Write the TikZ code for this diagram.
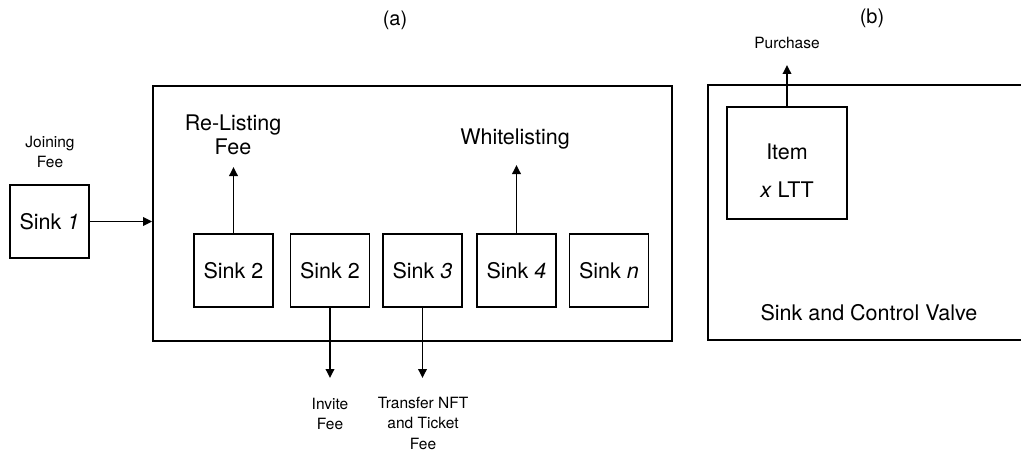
\documentclass[tikz,border=0pt]{standalone}
\usepackage{fontspec}
\setmainfont{TeX Gyre Heros}
\usetikzlibrary{arrows.meta}
\begin{document}
\begin{tikzpicture}[x=1pt,y=-1pt,
  sinkbox/.style={draw, line width=1.8pt, minimum width=79pt, minimum height=73pt, inner sep=0pt, font=\fontsize{21.5}{24}\selectfont},
  framebox/.style={draw, line width=1.8pt, inner sep=0pt},
  arr/.style={line width=1.8pt, -{Triangle[length=9pt,width=8.5pt]}},
  bigtxt/.style={font=\fontsize{21.5}{24}\selectfont, align=center, inner sep=0pt},
  smalltxt/.style={font=\fontsize{15.5}{20.5}\selectfont, align=center, inner sep=0pt},
  captxt/.style={font=\fontsize{20}{24}\selectfont, inner sep=0pt}]
\useasboundingbox (0,0) rectangle (1021,452);

% captions
\node[captxt] (capa) at (395,20) {(a)};
\node[captxt] (capb) at (872,18) {(b)};

% panel (a)
\node[framebox, minimum width=519pt, minimum height=255pt] (main) at (412.5,213.5) {};
\node[sinkbox] (s1) at (49.5,221.5) {Sink \textit{1}};
\node[smalltxt] (join) at (50,152) {Joining\\Fee};
\draw[arr] (s1.east) -- (s1.east -| main.west);

\node[sinkbox] (s2a) at (233.5,270.5) {Sink 2};
\node[sinkbox] (s2b) at (330,270.5) {Sink 2};
\node[sinkbox] (s3)  at (422.5,270.5) {Sink \textit{3}};
\node[sinkbox] (s4)  at (516.5,270.5) {Sink \textit{4}};
\node[sinkbox] (sn)  at (609,270.5) {Sink \textit{n}};

\node[bigtxt] (relist) at (233,135) {Re-Listing\\Fee};
\node[bigtxt] (white) at (515,139) {Whitelisting};
\coordinate (t1) at (233.5,167);
\coordinate (t4) at (516.5,165);
\draw[arr] (s2a.north) -- (t1);
\draw[arr] (s4.north) -- (t4);

\coordinate (b2) at (330,378);
\coordinate (b3) at (422.5,378);
\draw[arr] (s2b.south) -- (b2);
\draw[arr] (s3.south) -- (b3);
\node[smalltxt] (invite) at (330,414) {Invite\\Fee};
\node[smalltxt] (transfer) at (423,423) {Transfer NFT\\and Ticket\\Fee};

% panel (b)
\draw[line width=1.8pt] (1022,85) -- (708,85) -- (708,340) -- (1022,340);
\node[framebox, minimum width=120pt, minimum height=112pt] (item) at (787,163) {};
\node[font=\fontsize{21.5}{38}\selectfont, align=center, inner sep=0pt] (itemtxt) at (787,171) {Item\\\textit{x} LTT};
\coordinate (tp) at (787,65);
\draw[arr] (item.north) -- (tp);
\node[smalltxt] (purchase) at (787,43) {Purchase};
\node[bigtxt] (valve) at (869,313) {Sink and Control Valve};
\end{tikzpicture}
\end{document}
